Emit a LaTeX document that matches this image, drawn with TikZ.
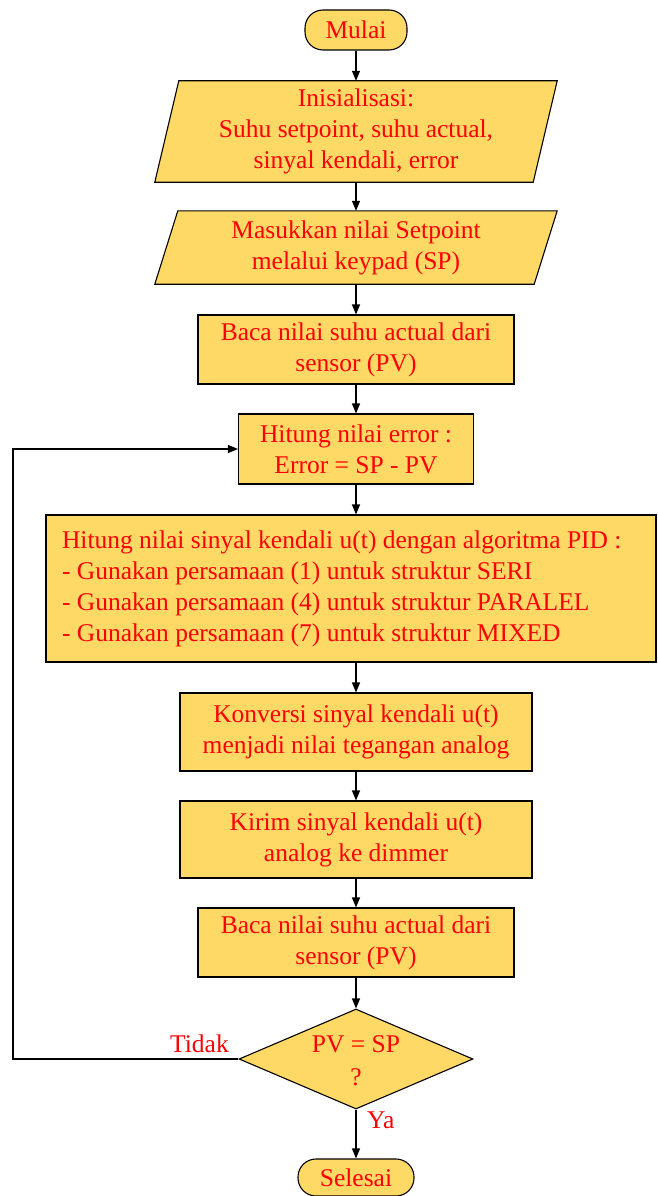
\documentclass[tikz,border=0pt]{standalone}
\usepackage{fontspec}
\setmainfont{Liberation Serif}
\usetikzlibrary{arrows.meta,shapes.geometric}
\pgfdeclarelayer{background}
\pgfsetlayers{background,main}
\definecolor{boxfill}{HTML}{FFD966}
\definecolor{txtred}{HTML}{FF0000}
\begin{document}
\begin{tikzpicture}[x=1pt,y=-1pt,
  txt/.style={text=txtred,font=\fontsize{25.5}{31}\selectfont,align=center,inner sep=0pt},
  base/.style={txt,fill=boxfill,draw=black,line width=1.1pt},
  procbox/.style={base,rectangle},
  term/.style={base,rectangle,rounded corners=18pt},
  iobox/.style={txt,rectangle},
  decision/.style={base,diamond},
  para/.style={fill=boxfill,draw=black,line width=1.1pt},
  arr/.style={draw=black,line width=1.1pt,-{Triangle[length=10pt,width=8pt]}},
]
\useasboundingbox (0,0) rectangle (657,1196);

\node[term,minimum width=102pt,minimum height=40pt] (start) at (356,30) {Mulai};

\node[iobox,minimum width=402pt,minimum height=101pt] (init) at (356,131.5)
  {Inisialisasi:\\Suhu setpoint, suhu actual,\\sinyal kendali, error};
\node[iobox,minimum width=402pt,minimum height=73pt] (inp) at (356,247.5)
  {Masukkan nilai Setpoint\\melalui keypad (SP)};
\begin{pgfonlayer}{background}
  \path[para] ([xshift=24pt]init.north west) -- (init.north east)
     -- ([xshift=-24pt]init.south east) -- (init.south west) -- cycle;
  \path[para] ([xshift=23pt]inp.north west) -- (inp.north east)
     -- ([xshift=-23pt]inp.south east) -- (inp.south west) -- cycle;
\end{pgfonlayer}

\node[procbox,minimum width=316pt,minimum height=69pt] (read1) at (356,349.5)
  {Baca nilai suhu actual dari\\sensor (PV)};
\node[procbox,minimum width=235pt,minimum height=70pt] (err) at (356,449)
  {Hitung nilai error :\\Error = SP - PV};
\node[procbox,minimum width=610pt,minimum height=147pt,text width=578pt,align=flush left] (pid) at (351,588.5)
  {\hspace*{0pt}\makebox[578pt][l]{Hitung nilai sinyal kendali u(t) dengan algoritma PID :}\\
   - Gunakan persamaan (1) untuk struktur SERI\\
   - Gunakan persamaan (4) untuk struktur PARALEL\\
   - Gunakan persamaan (7) untuk struktur MIXED};
\node[procbox,minimum width=352pt,minimum height=78pt] (conv) at (356,732)
  {Konversi sinyal kendali u(t)\\menjadi nilai tegangan analog};
\node[procbox,minimum width=352pt,minimum height=77pt] (send) at (356,839.5)
  {Kirim sinyal kendali u(t)\\analog ke dimmer};
\node[procbox,minimum width=316pt,minimum height=69pt] (read2) at (356,942.5)
  {Baca nilai suhu actual dari\\sensor (PV)};
\node[decision,minimum width=234pt,minimum height=100pt] (dec) at (356,1059) {};
\node[txt,font=\fontsize{25.5}{33}\selectfont] (dectxt) at (356,1061) {PV = SP\\?};
\node[term,minimum width=116pt,minimum height=37pt] (stop) at (356,1177.5) {Selesai};

\coordinate (loopx) at (13,0);

\draw[arr] (start) -- (init);
\draw[arr] (init) -- (inp);
\draw[arr] (inp) -- (read1);
\draw[arr] (read1) -- (err);
\draw[arr] (err.south) -- (err.south |- pid.north);
\draw[arr] (conv.north |- pid.south) -- (conv.north);
\draw[arr] (conv) -- (send);
\draw[arr] (send) -- (read2);
\draw[arr] (read2) -- (dec);
\draw[arr] (dec) -- (stop);
\draw[arr] (dec.west) -- (dec.west -| loopx) |- (err.west);

\node[txt,anchor=base east] (tidak) at (229,1052) {Tidak};
\node[txt,anchor=base west] (ya) at (367,1128) {Ya};
\end{tikzpicture}
\end{document}
